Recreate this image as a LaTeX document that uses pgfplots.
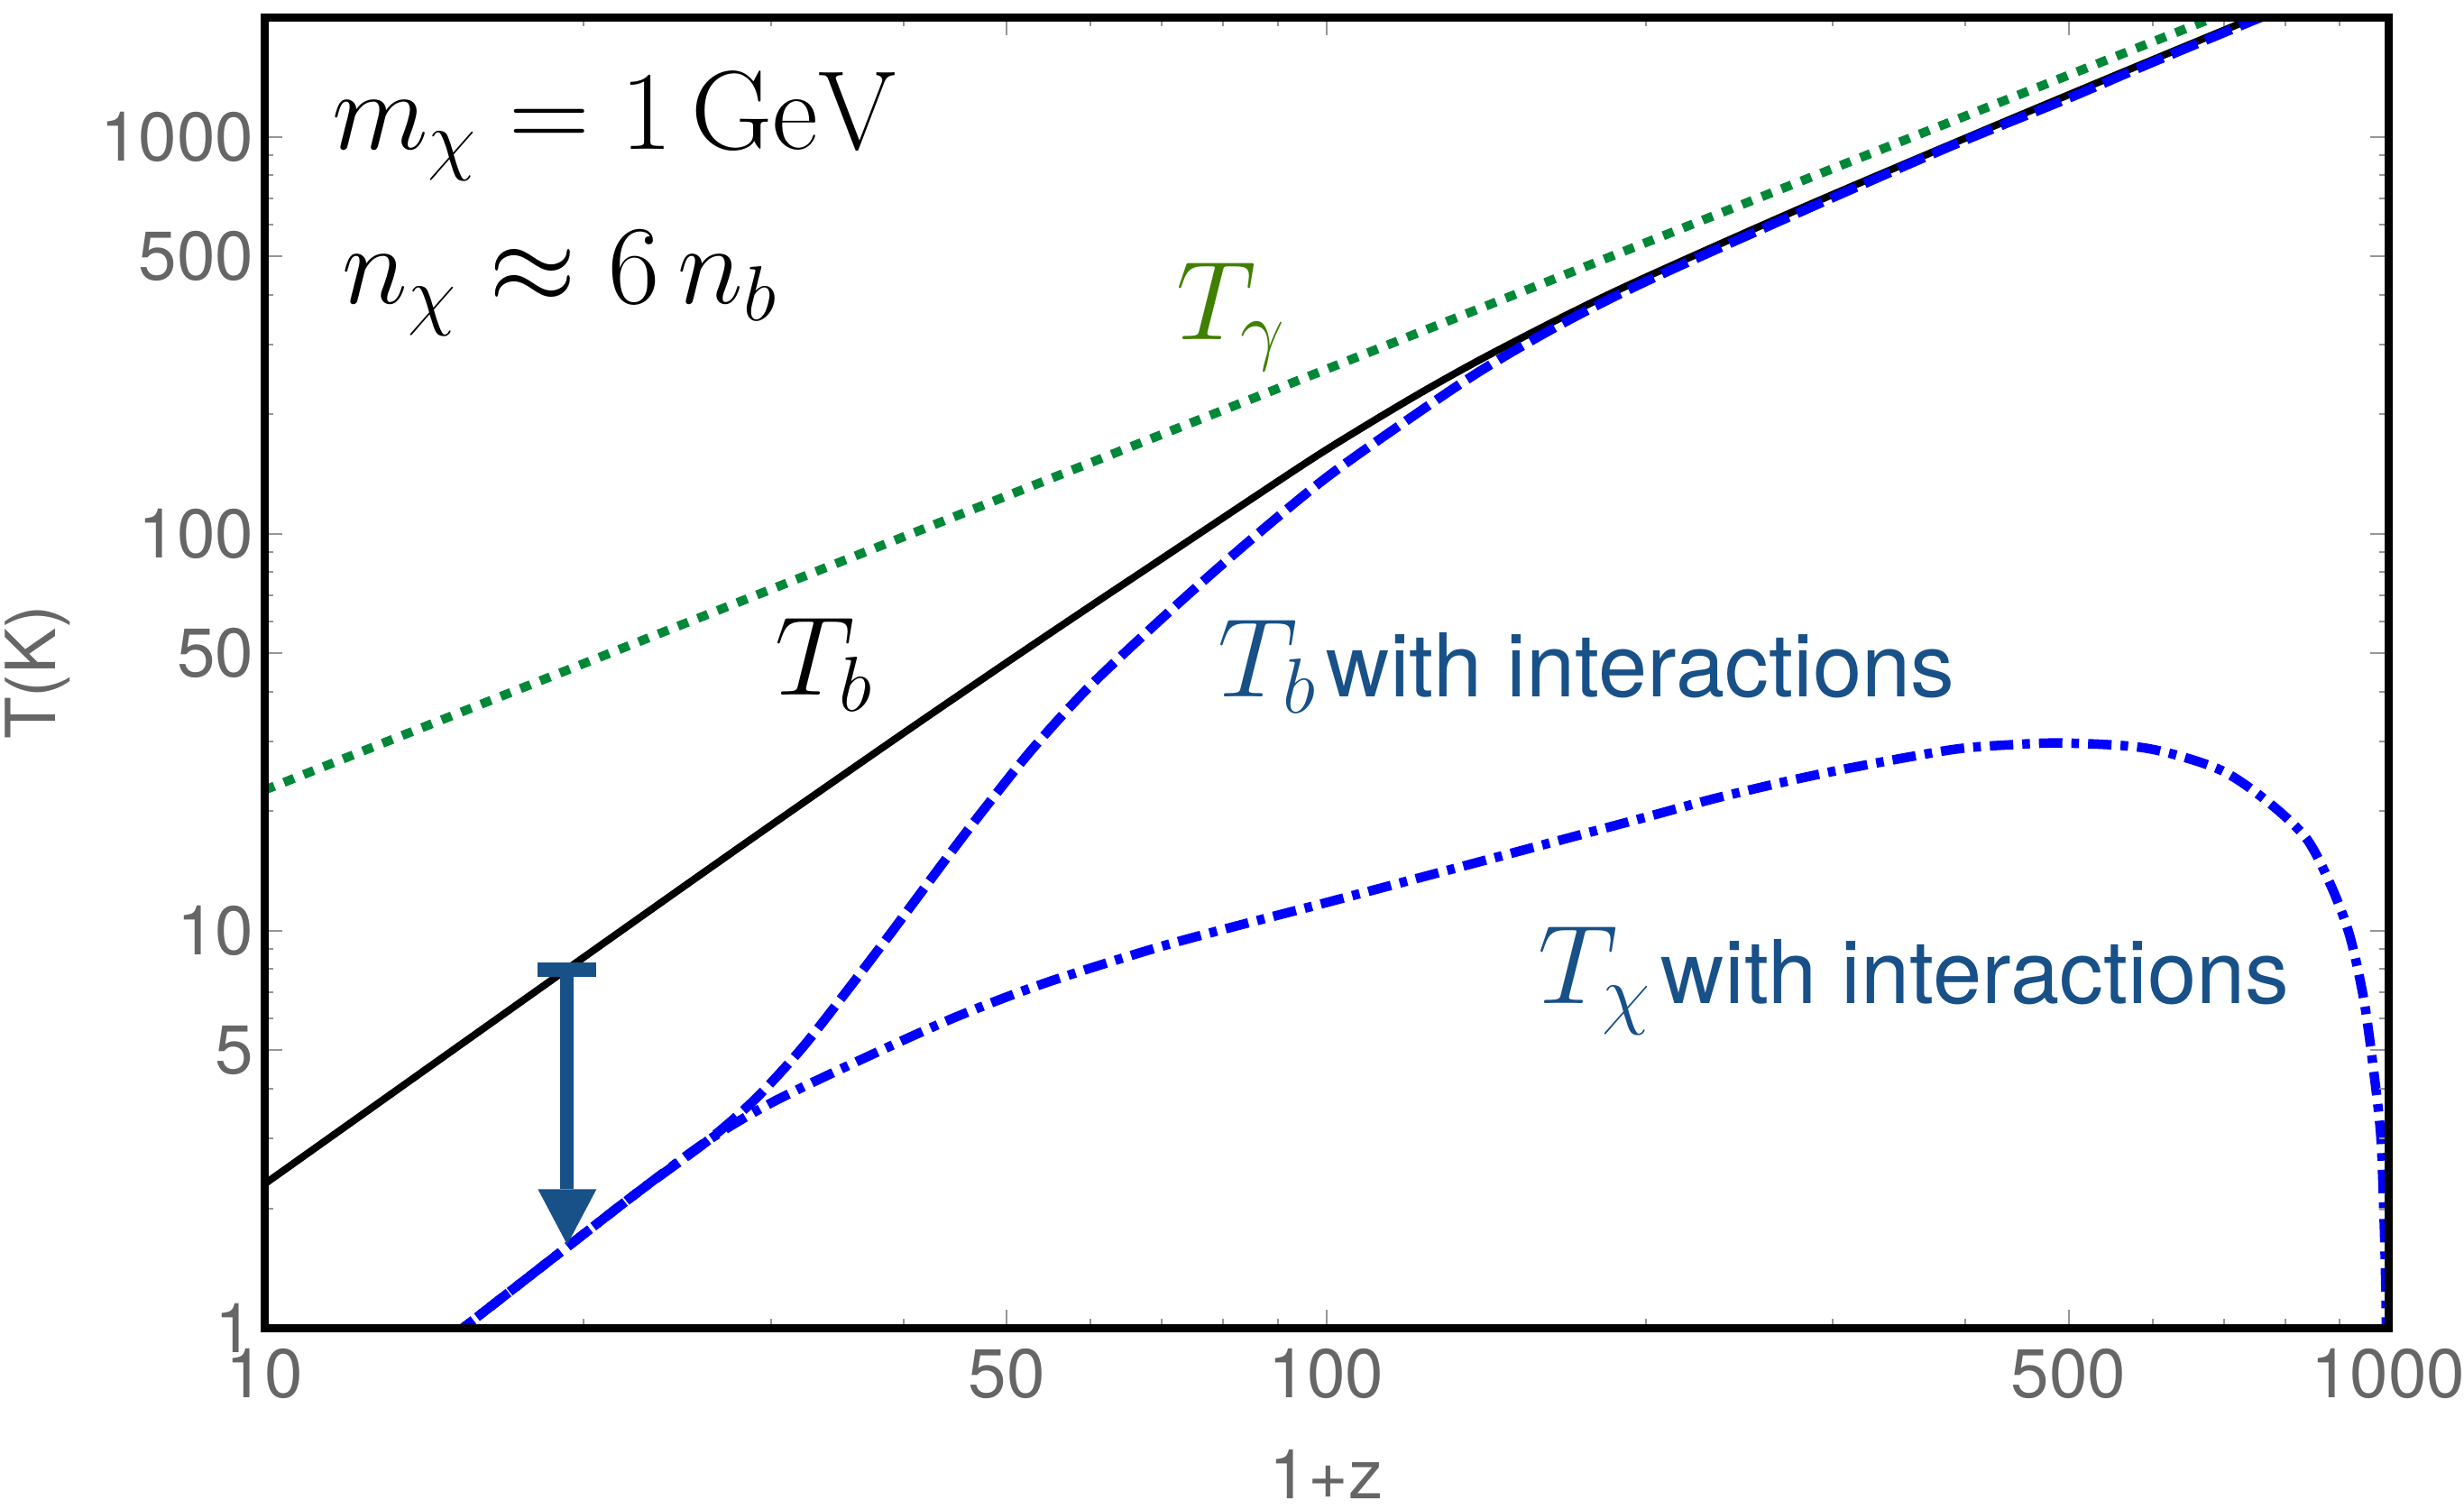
\documentclass[border=0pt]{standalone}
\usepackage[no-math]{fontspec}
\setmainfont{TeX Gyre Heros}
\usepackage{pgfplots}
\pgfplotsset{compat=1.18}
\usetikzlibrary{arrows.meta}

\definecolor{photongreen}{RGB}{0,136,56}
\definecolor{labelgreen}{RGB}{64,128,0}
\definecolor{labelblue}{RGB}{24,80,136}
\definecolor{ticklabelgray}{RGB}{102,102,102}
\definecolor{tickgray}{RGB}{150,150,150}

\begin{document}
\begin{tikzpicture}
\path[use as bounding box] (-58.6pt,-40.4pt) rectangle (487.8pt,294.4pt);
\begin{axis}[
  at={(0pt,0pt)}, anchor=south west,
  scale only axis, width=471pt, height=290.6pt,
  xmode=log, ymode=log,
  xmin=10, xmax=1000, ymin=1, ymax=2000,
  xtick={10,50,100,500,1000}, xticklabels={10,50,100,500,1000},
  minor xtick={20,30,40,60,70,80,90,200,300,400,600,700,800,900},
  ytick={1,5,10,50,100,500,1000}, yticklabels={1,5,10,50,100,500,1000},
  minor ytick={2,3,4,6,7,8,9,20,30,40,60,70,80,90,200,300,400,600,700,800,900},
  tick align=inside,
  major tick length=4pt, minor tick length=2pt,
  every tick/.append style={tickgray, line width=0.4pt},
  axis line style={line width=1.8pt, black},
  axis on top,
  ticklabel style={font=\fontsize{15.3}{18}\selectfont, text=ticklabelgray},
  xticklabel style={yshift=-1.2pt},
  yticklabel style={xshift=1.2pt},
  every axis x label/.style={at={(axis description cs:0.5,0)}, anchor=base,
    yshift=-37.8pt, font=\fontsize{15.3}{18}\selectfont, text=ticklabelgray},
  every axis y label/.style={at={([xshift=-50.2pt]axis description cs:0,0.5)},
    anchor=center, rotate=90, font=\fontsize{15.3}{18}\selectfont, text=ticklabelgray},
  xlabel={1+z}, ylabel={T(K)},
]

% photon temperature
\addplot[photongreen, line width=2pt, dash pattern=on 2.4pt off 2.3pt]
  coordinates {(10,22.6) (760,2227)};

% baryon temperature without interactions
\addplot[black, line width=1.6pt, smooth, tension=0.5] coordinates {
  (10,2.3) (15,4.97) (20,8.58) (25,13.09) (30,18.44) (40,31.48) (50,47.35)
  (60,65.75) (70,86.5) (85,122.3) (100,162.7) (120,218.6) (140,275.5)
  (170,360.1) (200,442.8) (280,660.7) (400,992.2) (560,1447) (780,2089)
};

% baryon temperature with interactions
\addplot[blue, line width=2.1pt, dash pattern=on 6.2pt off 2pt, smooth, tension=0.5] coordinates {
  (15.0,0.947) (19.3,1.6) (22.5,2.2) (26.2,2.97) (29,3.77) (32,5.02)
  (35,6.80) (39,9.95) (44,15.36) (48,20.8) (53,28.9) (60,41.5) (72,65.5)
  (85,96.8) (100,138.4) (120,195.7) (140,258) (166,336) (200,432)
  (275,634) (385,940) (500,1250) (600,1540) (780,2060)
};

% dark matter temperature with interactions
\addplot[blue, line width=2.1pt, dash pattern=on 5.2pt off 2pt on 1.7pt off 2pt, smooth, tension=0.5] coordinates {
  (15.0,0.947) (19.3,1.6) (22.5,2.2) (26.2,2.97) (30.1,3.70) (36.8,4.79)
  (44.9,6.08) (54.8,7.44) (71.6,9.3) (100.3,11.8) (140.5,15.0) (196.8,19.1)
  (231.6,21.5) (275.4,24.0) (316,25.9) (389,28.6) (440,29.4) (497,29.7)
  (593,28.8) (693,25.5) (769,21.2) (837,17.1) (882,13.1) (919,9.8)
  (948,6.75) (968,4.52) (984,3.03) (991.6,1.78) (995,1.2) (996.5,0.9)
};

% cooling of the baryons at 1+z ~ 20
\addplot[labelblue, line width=3pt,
  {Bar[width=13pt,line width=3.2pt]}-{Triangle[width=13pt,length=12.3pt,line width=0pt]}]
  coordinates {(19.29,8.31) (19.29,1.62)};

\node[anchor=base west, inner sep=0pt] at (axis cs:11.56,931)
  {\fontsize{23}{28}\selectfont$m_\chi = 1\,\mathrm{GeV}$};
\node[anchor=base west, inner sep=0pt] at (axis cs:11.83,379)
  {\fontsize{23}{28}\selectfont$n_\chi \approx 6\, n_b$};
\node[anchor=base west, inner sep=0pt, text=labelgreen] at (axis cs:72.1,309)
  {\fontsize{23}{28}\selectfont$T_\gamma$};
\node[anchor=base west, inner sep=0pt] at (axis cs:30.2,39.3)
  {\fontsize{23}{28}\selectfont$T_b$};
\node[anchor=base west, inner sep=0pt, text=labelblue] at (axis cs:79.0,38.9)
  {\fontsize{23}{28}\selectfont$T_b$\hspace{2pt}\fontsize{19.5}{24}\selectfont with interactions};
\node[anchor=base west, inner sep=0pt, text=labelblue] at (axis cs:157.9,6.57)
  {\fontsize{23}{28}\selectfont$T_\chi$\hspace{2pt}\fontsize{19.5}{24}\selectfont with interactions};

\end{axis}
\end{tikzpicture}
\end{document}
